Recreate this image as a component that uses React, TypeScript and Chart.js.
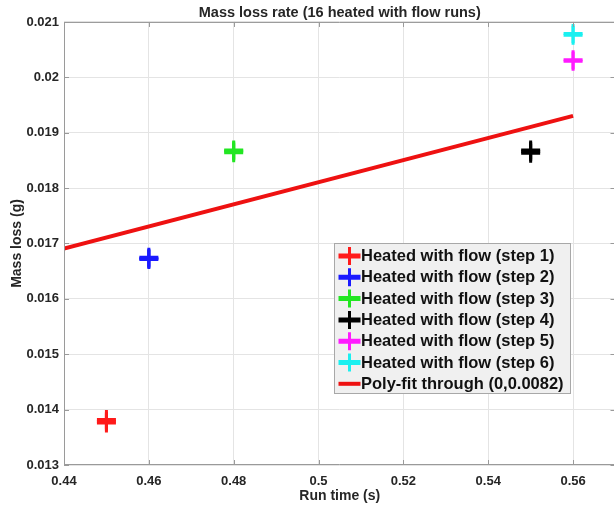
import React, { useEffect, useRef } from "react";
import { Chart, registerables } from "chart.js";

Chart.register(...registerables);

// ---- data ----
const stepLabels = [
  "Heated with flow (step 1)",
  "Heated with flow (step 2)",
  "Heated with flow (step 3)",
  "Heated with flow (step 4)",
  "Heated with flow (step 5)",
  "Heated with flow (step 6)",
];
const stepColors = ["#ff1a1a", "#1a1aff", "#22e622", "#000000", "#ff1aff", "#1af0f0"];
const stepRunTimes = [0.45, 0.46, 0.48, 0.55, 0.56, 0.56];
const step1Mass = [0.01376, 0.01379, 0.01382];
const step2Mass = [0.01671, 0.01673, 0.01675];
const step3Mass = [0.01864, 0.01867, 0.01869];
const step4Mass = [0.01863, 0.01866, 0.01869];
const step5Mass = [0.02029, 0.02032];
const step6Mass = [0.02076, 0.02079];
const stepMass = [step1Mass, step2Mass, step3Mass, step4Mass, step5Mass, step6Mass];

const fitLabel = "Poly-fit through (0,0.0082)";
const fitColor = "#ee1111";
const fitRunTimes = [0.44, 0.56];
const fitMass = [0.01691, 0.019305];

const xTickValues = [0.44, 0.46, 0.48, 0.5, 0.52, 0.54, 0.56];
const yTickValues = [0.013, 0.014, 0.015, 0.016, 0.017, 0.018, 0.019, 0.02, 0.021];

const titleText = "Mass loss rate (16 heated with flow runs)";
const xTitle = "Run time (s)";
const yTitle = "Mass loss (g)";

const AXIS_COLOR = "#9a9a9a";
const GRID_COLOR = "#e4e4e4";
const TEXT_COLOR = "#262626";
const FONT = "'Liberation Sans', Arial, sans-serif";

const CANVAS_W = 628;
const CANVAS_H = 510;

const fmt = (v: number) => String(Number(Number(v).toFixed(4)));

const boxPlugin = {
  id: "matlabBox",
  afterDraw(chart: any) {
    const { ctx, chartArea } = chart;
    const { left, right, top, bottom } = chartArea;
    const xs = chart.scales.x;
    const ys = chart.scales.y;
    ctx.save();
    ctx.strokeStyle = AXIS_COLOR;
    ctx.lineWidth = 1;
    ctx.beginPath();
    ctx.rect(left + 0.5, top + 0.5, right - left - 1, bottom - top - 1);
    ctx.stroke();
    const tl = 5;
    ctx.beginPath();
    xTickValues.forEach((v) => {
      const px = Math.round(xs.getPixelForValue(v)) + 0.5;
      ctx.moveTo(px, bottom);
      ctx.lineTo(px, bottom - tl);
      ctx.moveTo(px, top);
      ctx.lineTo(px, top + tl);
    });
    yTickValues.forEach((v) => {
      const py = Math.round(ys.getPixelForValue(v)) + 0.5;
      ctx.moveTo(left, py);
      ctx.lineTo(left + tl, py);
      ctx.moveTo(right, py);
      ctx.lineTo(right - tl, py);
    });
    ctx.stroke();

    // legend
    const lx = 334, ly = 243, lw = 236, lh = 150;
    ctx.fillStyle = "#f0f0f0";
    ctx.fillRect(lx, ly, lw, lh);
    ctx.strokeStyle = "#a8a8a8";
    ctx.strokeRect(lx + 0.5, ly + 0.5, lw, lh);
    const rowH = 21.3;
    const y0 = 256;
    ctx.font = `bold 16.5px ${FONT}`;
    ctx.textBaseline = "middle";
    ctx.textAlign = "left";
    const ix = 349.5;
    chart.data.datasets.forEach((ds: any, i: number) => {
      const cy = y0 + i * rowH;
      ctx.strokeStyle = ds.borderColor;
      if (ds.showLine) {
        ctx.lineWidth = 4;
        ctx.beginPath();
        ctx.moveTo(ix - 11, cy);
        ctx.lineTo(ix + 11, cy);
        ctx.stroke();
      } else {
        ctx.lineWidth = 3;
        ctx.beginPath();
        ctx.moveTo(ix - 11, cy - 1);
        ctx.lineTo(ix + 11, cy - 1);
        ctx.moveTo(ix - 11, cy + 1);
        ctx.lineTo(ix + 11, cy + 1);
        ctx.moveTo(ix, cy - 9);
        ctx.lineTo(ix, cy + 9);
        ctx.stroke();
      }
      ctx.fillStyle = "#111";
      ctx.fillText(ds.label, 361, cy + 0.5);
    });
    ctx.restore();
  },
};

export default function App() {
  const ref = useRef<HTMLCanvasElement | null>(null);
  useEffect(() => {
    document.body.style.margin = "0";
    if (!ref.current) return;
    const datasets: any[] = stepLabels.map((label, i) => ({
      label,
      data: stepMass[i].map((m) => ({ x: stepRunTimes[i], y: m })),
      borderColor: stepColors[i],
      backgroundColor: stepColors[i],
      pointStyle: "cross",
      pointRadius: 9.5,
      pointBorderWidth: 3,
      showLine: false,
    }));
    datasets.push({
      label: fitLabel,
      data: fitRunTimes.map((x, i) => ({ x, y: fitMass[i] })),
      borderColor: fitColor,
      backgroundColor: fitColor,
      borderWidth: 4,
      pointRadius: 0,
      showLine: true,
    });
    const chart = new Chart(ref.current, {
      type: "scatter",
      data: { datasets },
      plugins: [boxPlugin],
      options: {
        animation: false,
        responsive: false,
        maintainAspectRatio: false,
        layout: { padding: { left: 0, right: 5, top: 0, bottom: 0 } },
        plugins: {
          legend: { display: false },
          tooltip: { enabled: false },
          title: {
            display: true,
            fullSize: false,
            text: titleText,
            color: TEXT_COLOR,
            font: { family: FONT, size: 14.5, weight: "bold", lineHeight: 1.15 },
            padding: { top: 5, bottom: 0.3 },
          },
        },
        scales: {
          x: {
            type: "linear",
            min: 0.44,
            max: 0.57,
            afterBuildTicks: (s: any) => {
              s.ticks = xTickValues.map((v) => ({ value: v }));
            },
            afterFit: (s: any) => {
              s.height = 45;
              s.paddingLeft = 0;
              s.paddingRight = 0;
            },
            ticks: {
              color: TEXT_COLOR,
              font: { family: FONT, size: 13, weight: "bold" },
              padding: 9,
              maxRotation: 0,
              callback: (v: any) => fmt(v),
            },
            grid: { color: GRID_COLOR, drawTicks: false },
            border: { display: false },
            title: {
              display: true,
              text: xTitle,
              color: TEXT_COLOR,
              font: { family: FONT, size: 14, weight: "bold" },
              padding: { top: 0, bottom: 5 },
            },
          },
          y: {
            type: "linear",
            min: 0.013,
            max: 0.021,
            afterBuildTicks: (s: any) => {
              s.ticks = yTickValues.map((v) => ({ value: v }));
            },
            afterFit: (s: any) => {
              s.width = 64;
              s.paddingTop = 0;
              s.paddingBottom = 0;
            },
            ticks: {
              color: TEXT_COLOR,
              font: { family: FONT, size: 13, weight: "bold" },
              padding: 5,
              callback: (v: any) => fmt(v),
            },
            grid: { color: GRID_COLOR, drawTicks: false },
            border: { display: false },
            title: {
              display: true,
              text: yTitle,
              color: TEXT_COLOR,
              font: { family: FONT, size: 14, weight: "bold" },
              padding: { top: 9, bottom: 0 },
            },
          },
        },
      },
    } as any);
    return () => chart.destroy();
  }, []);
  return (
    <div style={{ width: 614, height: 510, overflow: "hidden", position: "relative", background: "#fff" }}>
      <div style={{ width: CANVAS_W, height: CANVAS_H, position: "absolute", left: 0, top: 0 }}>
        <canvas ref={ref} width={CANVAS_W} height={CANVAS_H} style={{ display: "block", width: CANVAS_W, height: CANVAS_H }} />
      </div>
    </div>
  );
}
